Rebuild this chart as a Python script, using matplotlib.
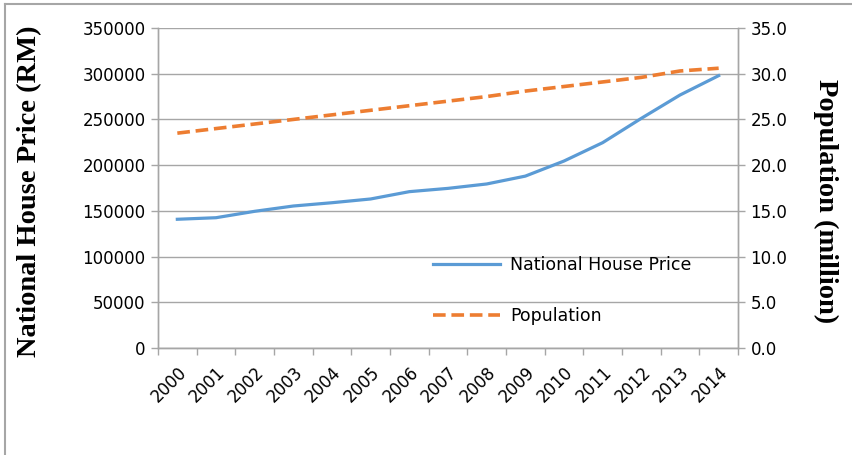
import matplotlib
matplotlib.use('Agg')
import matplotlib.pyplot as plt
from matplotlib.lines import Line2D
import numpy as np

years = ['2000', '2001', '2002', '2003', '2004', '2005', '2006', '2007',
         '2008', '2009', '2010', '2011', '2012', '2013', '2014']
house_price = [140800, 142500, 149500, 155300, 158900, 163000, 171000, 174600,
               179400, 188000, 204500, 224600, 251200, 276700, 297900]
population = [23.5, 24.0, 24.5, 25.0, 25.5, 26.0, 26.5, 27.0,
              27.5, 28.1, 28.6, 29.1, 29.6, 30.3, 30.6]
left_ticks = [0, 50000, 100000, 150000, 200000, 250000, 300000, 350000]
right_ticks = [0.0, 5.0, 10.0, 15.0, 20.0, 25.0, 30.0, 35.0]

W, H = 853, 455
GRAY = '#A6A6A6'
fig = plt.figure(figsize=(W / 100, H / 100), dpi=100)
ax = fig.add_axes([158 / W, 1 - 348 / H, 580 / W, 320 / H])
ax2 = ax.twinx()

x = np.arange(len(years))
l1, = ax.plot(x, house_price, color='#5B9BD5', lw=2.3, label='National House Price',
              solid_joinstyle='round')
l2, = ax2.plot(x, population, color='#ED7D31', lw=2.6, ls=(0, (3.5, 1.6)),
               label='Population')

ax.set_xlim(-0.5, len(years) - 0.5)
ax.set_ylim(0, 350000)
ax2.set_ylim(0, 35)
ax.set_yticks(left_ticks)
ax.set_yticklabels([str(v) for v in left_ticks], fontsize=12, family='DejaVu Sans')
ax2.set_yticks(right_ticks)
ax2.set_yticklabels([f'{v:.1f}' for v in right_ticks], fontsize=12, family='DejaVu Sans')

ax.set_xticks(x)
ax.set_xticklabels(years, rotation=45, ha='right', rotation_mode='anchor',
                   fontsize=12, family='DejaVu Sans')
ax.set_xticks(np.arange(-0.5, len(years), 1), minor=True)
ax.tick_params(axis='x', which='major', length=0, pad=11)
ax.tick_params(axis='x', which='minor', length=5, color=GRAY, width=1)
ax.tick_params(axis='y', length=5, color=GRAY, width=1, pad=4)
ax2.tick_params(axis='y', length=5, color=GRAY, width=1, pad=4)

for a in (ax, ax2):
    a.spines['top'].set_visible(False)
    for s in ('left', 'right', 'bottom'):
        a.spines[s].set_color(GRAY)
        a.spines[s].set_linewidth(1)
ax.grid(axis='y', color=GRAY, lw=1)
ax.set_axisbelow(True)

fig.legend(handles=[l1, l2], loc='center left', bbox_to_anchor=(433 / W, 1 - 290.5 / H),
           frameon=False, borderpad=0, borderaxespad=0, handlelength=3.85,
           handletextpad=0.6, labelspacing=1.9,
           prop={'family': 'DejaVu Sans', 'size': 12.5})

fig.text(30 / W, 1 - 191 / H, 'National House Price (RM)', rotation=90,
         family='Liberation Serif', weight='bold', fontsize=20.5,
         ha='center', va='center')
fig.text(826 / W, 1 - 201 / H, 'Population (million)', rotation=270,
         family='Liberation Serif', weight='bold', fontsize=20.5,
         ha='center', va='center')

fig.add_artist(Line2D([5 / W, 5 / W], [0, 1 - 4 / H], color=GRAY, lw=1.5))
fig.add_artist(Line2D([5 / W, 1], [1 - 4 / H, 1 - 4 / H], color=GRAY, lw=1.5))

fig.savefig('out.png', dpi=100)
